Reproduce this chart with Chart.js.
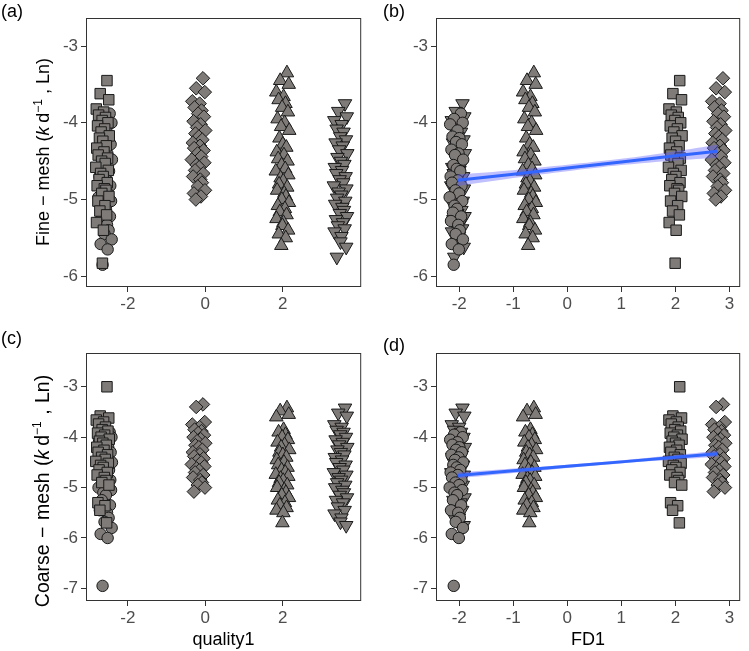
<!DOCTYPE html>
<html>
<head>
<meta charset="utf-8">
<script src="https://cdn.jsdelivr.net/npm/chart.js@4/dist/chart.umd.min.js"></script>
<style>
body { margin: 0; background: #fff; font-family: "Liberation Sans", Arial, sans-serif; }
#wrap { position: relative; width: 749px; height: 651px; }
canvas { position: absolute; }
.lab { position: absolute; font-size: 18px; color: #000; line-height: 20px; }
.ytitle { position: absolute; font-size: 18px; color: #000; white-space: nowrap;
  transform: translate(-50%, -50%) rotate(-90deg); }
.ytitle sup { font-size: 12px; }
</style>
</head>
<body>
<div id="wrap">
  <canvas id="ca" width="370" height="320" style="left:0;top:0"></canvas>
  <canvas id="cb" width="379" height="320" style="left:370px;top:0"></canvas>
  <canvas id="cc" width="370" height="331" style="left:0;top:320px"></canvas>
  <canvas id="cd" width="379" height="331" style="left:370px;top:320px"></canvas>
  <div class="lab" style="left:1px;top:1px">(a)</div>
  <div class="lab" style="left:383px;top:1px">(b)</div>
  <div class="lab" style="left:1px;top:328px">(c)</div>
  <div class="lab" style="left:383px;top:335px">(d)</div>
  <div class="ytitle" style="left:42px;top:152px">Fine &minus; mesh (<i>k</i>&thinsp;d<sup>&minus;1</sup> , Ln)</div>
  <div class="ytitle" style="left:42px;top:491px;font-size:19.5px;word-spacing:1px">Coarse &minus; mesh (<i>k</i>&thinsp;d<sup>&minus;1</sup> , Ln)</div>
</div>
<script>
/* data */
// group order: square, circle, diamond, triangle up, triangle down
var quality1 = [-2.65, -2.58, -0.17, 2.0, 3.5];
var fd1 = [2.0, -2.05, 2.8, -0.7, -2.02];

var jitter = [0.62,-0.35,0.88,-0.91,0.14,-0.58,0.41,-0.07,0.76,-0.73,0.29,-0.22,0.95,-0.46,0.03,0.53,-0.84,0.19,-0.64,0.71,
  -0.15,0.37,-0.98,0.82,-0.29,0.08,-0.51,0.66,-0.79,0.24,0.47,-0.12,0.91,-0.68,0.33,-0.4,0.57,-0.88,0.11,-0.03,
  0.79,-0.55,0.45,-0.19,0.69,-0.95,0.16,-0.33,0.86,-0.61];

var fineSquare = [-3.45,-3.62,-3.7,-3.82,-3.86,-3.9,-3.93,-3.97,-4.0,-4.04,-4.08,-4.12,-4.17,-4.2,-4.24,-4.3,-4.33,-4.38,-4.42,-4.46,
  -4.5,-4.53,-4.58,-4.62,-4.66,-4.7,-4.74,-4.78,-4.82,-4.86,-4.88,-4.92,-4.96,-5.02,-5.08,-5.15,-5.2,-5.3,-5.4,-5.83];
var fineCircle = [-3.88,-3.95,-4.0,-4.02,-4.1,-4.18,-4.2,-4.25,-4.28,-4.35,-4.4,-4.42,-4.48,-4.55,-4.6,-4.63,-4.7,-4.75,-4.78,-4.82,
  -4.88,-4.92,-4.97,-5.02,-5.08,-5.12,-5.17,-5.22,-5.28,-5.33,-5.4,-5.45,-5.52,-5.58,-5.65,-5.85];
var fineDiamond = [-3.42,-3.55,-3.6,-3.72,-3.75,-3.8,-3.84,-3.88,-3.92,-3.98,-4.02,-4.06,-4.1,-4.14,-4.18,-4.22,-4.26,-4.3,-4.33,-4.36,
  -4.4,-4.44,-4.48,-4.52,-4.55,-4.58,-4.62,-4.66,-4.7,-4.74,-4.78,-4.83,-4.88,-4.92,-4.96,-5.0];
var fineTriUp = [-3.35,-3.45,-3.5,-3.6,-3.66,-3.7,-3.75,-3.8,-3.86,-3.95,-4.0,-4.05,-4.1,-4.2,-4.28,-4.32,-4.38,-4.42,-4.47,-4.5,
  -4.55,-4.6,-4.63,-4.68,-4.72,-4.76,-4.8,-4.84,-4.88,-4.92,-4.96,-5.0,-5.04,-5.08,-5.12,-5.16,-5.2,-5.25,-5.3,-5.34,
  -5.4,-5.45,-5.5,-5.6];
var fineTriDown = [-3.75,-3.85,-3.92,-3.97,-4.02,-4.08,-4.12,-4.18,-4.22,-4.26,-4.3,-4.35,-4.4,-4.45,-4.5,-4.54,-4.58,-4.62,-4.66,-4.7,
  -4.74,-4.78,-4.82,-4.86,-4.9,-4.94,-4.98,-5.02,-5.06,-5.1,-5.14,-5.18,-5.22,-5.26,-5.3,-5.34,-5.38,-5.42,-5.48,-5.55,
  -5.62,-5.75];

var coarseSquare = [-3.0,-3.58,-3.62,-3.66,-3.7,-3.74,-3.8,-3.85,-3.88,-3.92,-3.96,-4.0,-4.04,-4.08,-4.12,-4.16,-4.2,-4.26,-4.3,-4.35,
  -4.4,-4.44,-4.48,-4.52,-4.56,-4.6,-4.65,-4.7,-4.75,-4.8,-4.86,-4.9,-4.95,-5.3,-5.36,-5.45,-5.7];
var coarseCircle = [-3.9,-3.95,-4.0,-4.05,-4.1,-4.15,-4.2,-4.25,-4.3,-4.35,-4.4,-4.45,-4.5,-4.55,-4.6,-4.65,-4.7,-4.75,-4.8,-4.85,
  -4.9,-4.95,-5.0,-5.05,-5.1,-5.15,-5.25,-5.35,-5.45,-5.5,-5.6,-5.68,-5.8,-5.92,-6.0,-6.95];
var coarseDiamond = [-3.35,-3.4,-3.7,-3.75,-3.8,-3.85,-3.88,-3.92,-3.96,-4.0,-4.04,-4.08,-4.12,-4.16,-4.2,-4.25,-4.3,-4.34,-4.38,-4.42,
  -4.46,-4.5,-4.54,-4.58,-4.62,-4.66,-4.7,-4.75,-4.8,-4.85,-4.9,-4.95,-5.0,-5.08];
var coarseTriUp = [-3.42,-3.48,-3.55,-3.6,-3.85,-3.9,-3.95,-4.0,-4.05,-4.1,-4.15,-4.2,-4.25,-4.3,-4.35,-4.4,-4.45,-4.5,-4.55,-4.6,
  -4.65,-4.7,-4.74,-4.78,-4.82,-4.86,-4.9,-4.95,-5.0,-5.05,-5.1,-5.15,-5.2,-5.25,-5.3,-5.35,-5.4,-5.45,-5.5,-5.7];
var coarseTriDown = [-3.42,-3.52,-3.58,-3.75,-3.8,-3.86,-3.9,-3.95,-4.0,-4.05,-4.1,-4.15,-4.2,-4.25,-4.3,-4.35,-4.4,-4.45,-4.5,-4.55,
  -4.6,-4.65,-4.7,-4.75,-4.8,-4.85,-4.9,-4.95,-5.0,-5.05,-5.1,-5.15,-5.2,-5.25,-5.3,-5.38,-5.45,-5.52,-5.6,-5.68,-5.75];

// linear fit vs FD1 with confidence band
var fitX = [-2.03, -1, 0, 1, 2, 2.78];
var fineFit = [-4.75, -4.669, -4.589, -4.51, -4.43, -4.37];
var fineLo = [-4.825, -4.72, -4.63, -4.55, -4.49, -4.455];
var fineHi = [-4.675, -4.618, -4.548, -4.47, -4.37, -4.285];
var coarseFit = [-4.76, -4.668, -4.579, -4.49, -4.40, -4.33];
var coarseLo = [-4.82, -4.713, -4.609, -4.52, -4.445, -4.39];
var coarseHi = [-4.70, -4.623, -4.549, -4.46, -4.355, -4.27];

var yTicksFine = [-6, -5, -4, -3];
var yTicksCoarse = [-7, -6, -5, -4, -3];
var qualityTicks = [-2, 0, 2];
var fdTicks = [-2, -1, 0, 1, 2, 3];

/* styles */
var shapeStyle = ['rect', 'circle', 'rectRot', 'triangle', 'triangle'];
var shapeRot = [0, 0, 0, 0, 180];
var shapeRadius = [7.4, 5.7, 6.8, 7.8, 7.8];
var markFill = '#7f7b79';

Chart.defaults.font.family = '"Liberation Sans", Arial, sans-serif';
Chart.defaults.font.size = 17;
Chart.defaults.color = '#4d4d4d';

var boxPlugin = {
  id: 'box',
  afterDraw: function (chart) {
    var a = chart.chartArea, ctx = chart.ctx;
    ctx.save();
    ctx.strokeStyle = '#333';
    ctx.lineWidth = 1;
    ctx.strokeRect(a.left + 0.5, a.top + 0.5, a.right - a.left - 1, a.bottom - a.top - 1);
    ctx.restore();
  }
};

function pts(xs, ys) {
  return xs.map(function (x, i) { return { x: x, y: ys[i] }; });
}

function groupPoints(center, jw, ys) {
  return ys.map(function (v, i) { return { x: center + jitter[i] * jw, y: v }; });
}

function makePanel(id, p) {
  var cv = document.getElementById(id);
  var W = cv.width, H = cv.height;
  var sets = [];
  if (p.fit) {
    sets.push({ type: 'line', data: pts(fitX, p.fit[0]), borderColor: '#3366ff', borderWidth: 3,
      pointRadius: 0, fill: false, tension: 0 });
    sets.push({ type: 'line', data: pts(fitX, p.fit[2]), borderColor: 'rgba(0,0,0,0)', borderWidth: 1,
      pointRadius: 0, fill: '+1', backgroundColor: 'rgba(90,90,255,0.38)', tension: 0.3 });
    sets.push({ type: 'line', data: pts(fitX, p.fit[1]), borderColor: 'rgba(0,0,0,0)', borderWidth: 1,
      pointRadius: 0, fill: false, tension: 0.3 });
  }
  for (var g = 0; g < 5; g++) {
    sets.push({
      data: groupPoints(p.centers[g], p.jw, p.ys[g]),
      pointStyle: shapeStyle[g],
      pointRotation: shapeRot[g],
      pointRadius: shapeRadius[g],
      pointHoverRadius: shapeRadius[g],
      pointBackgroundColor: markFill,
      pointBorderColor: '#1a1a1a',
      pointBorderWidth: 1
    });
  }
  new Chart(cv, {
    type: 'scatter',
    data: { datasets: sets },
    options: {
      responsive: false,
      animation: false,
      layout: { padding: { left: 0, top: p.box.top, right: W - p.box.right, bottom: 0 } },
      plugins: { legend: { display: false }, tooltip: { enabled: false }, filler: { drawTime: 'beforeDatasetDraw' } },
      scales: {
        x: {
          type: 'linear', min: p.xr[0], max: p.xr[1],
          afterFit: function (s) { s.height = H - p.box.bottom; },
          afterBuildTicks: function (s) { s.ticks = p.xt.map(function (v) { return { value: v }; }); },
          ticks: { callback: function (v) { return String(v); }, padding: 2, maxRotation: 0, color: '#4d4d4d' },
          grid: { display: true, drawOnChartArea: false, drawTicks: true, tickLength: 5, tickColor: '#333', tickWidth: 1 },
          border: { display: false },
          title: { display: !!p.xTitle, text: p.xTitle || '', color: '#000', font: { size: 18 }, padding: { top: 0, bottom: 0 } }
        },
        y: {
          type: 'linear', min: p.yr[0], max: p.yr[1],
          afterFit: function (s) { s.width = p.box.left; },
          afterBuildTicks: function (s) { s.ticks = p.yt.map(function (v) { return { value: v }; }); },
          ticks: { callback: function (v) { return String(v); }, padding: 3, color: '#4d4d4d' },
          grid: { display: true, drawOnChartArea: false, drawTicks: true, tickLength: 5, tickColor: '#333', tickWidth: 1 },
          border: { display: false }
        }
      }
    },
    plugins: [boxPlugin]
  });
}

var fineYs = [fineSquare, fineCircle, fineDiamond, fineTriUp, fineTriDown];
var coarseYs = [coarseSquare, coarseCircle, coarseDiamond, coarseTriUp, coarseTriDown];

makePanel('ca', { centers: quality1, jw: 0.18, ys: fineYs, xr: [-3.08, 4.03], yr: [-6.14, -2.634],
  xt: qualityTicks, yt: yTicksFine, box: { left: 86, right: 364, top: 18, bottom: 287 } });
makePanel('cb', { centers: fd1, jw: 0.13, ys: fineYs, xr: [-2.43, 3.2], yr: [-6.14, -2.634],
  xt: fdTicks, yt: yTicksFine, box: { left: 66, right: 377, top: 18, bottom: 287 },
  fit: [fineFit, fineLo, fineHi] });
makePanel('cc', { centers: quality1, jw: 0.18, ys: coarseYs, xr: [-3.08, 4.03], yr: [-7.25, -2.33],
  xt: qualityTicks, yt: yTicksCoarse, box: { left: 86, right: 364, top: 33, bottom: 281 }, xTitle: 'quality1' });
makePanel('cd', { centers: fd1, jw: 0.13, ys: coarseYs, xr: [-2.43, 3.2], yr: [-7.25, -2.33],
  xt: fdTicks, yt: yTicksCoarse, box: { left: 66, right: 377, top: 33, bottom: 281 }, xTitle: 'FD1',
  fit: [coarseFit, coarseLo, coarseHi] });
</script>
</body>
</html>
